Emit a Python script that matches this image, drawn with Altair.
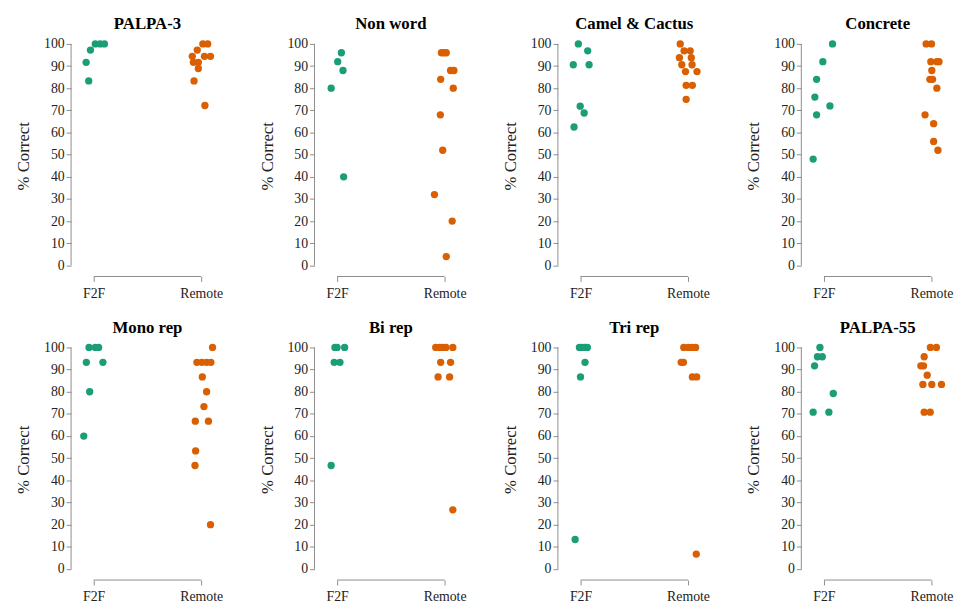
import altair as alt
import pandas as pd

panel_names = ["PALPA-3", "Non word", "Camel & Cactus", "Concrete",
               "Mono rep", "Bi rep", "Tri rep", "PALPA-55"]
groups = ["F2F", "Remote"]

# % correct per participant, with the horizontal jitter
palpa3_f2f = [91.7, 83.3, 97.2, 100, 100, 100]
palpa3_f2f_jit = [-0.07, -0.046, -0.03, 0.015, 0.06, 0.1]
palpa3_rem = [94.4, 91.7, 83.3, 97.2, 91.7, 88.9, 100, 100, 94.4, 94.4, 72.2]
palpa3_rem_jit = [-0.083, -0.073, -0.067, -0.037, -0.027, -0.027, 0.015, 0.06, 0.03, 0.086, 0.034]

nonword_f2f = [96, 92, 88, 80, 40]
nonword_f2f_jit = [0.04, 0.006, 0.055, -0.055, 0.061]
nonword_rem = [96, 96, 96, 88, 88, 84, 80, 68, 52, 32, 20, 4]
nonword_rem_jit = [-0.03, -0.006, 0.015, 0.055, 0.086, -0.037, 0.08, -0.04, -0.018, -0.095, 0.07, 0.015]

camel_f2f = [100, 96.9, 90.6, 90.6, 71.9, 68.8, 62.5]
camel_f2f_jit = [-0.02, 0.067, -0.067, 0.08, -0.003, 0.034, -0.06]
camel_rem = [100, 96.9, 96.9, 93.8, 93.8, 90.6, 90.6, 87.5, 87.5, 81.3, 81.3, 75]
camel_rem_jit = [-0.073, -0.037, 0.02, -0.08, 0.03, -0.058, 0.037, -0.024, 0.083, -0.018, 0.04, -0.018]

concrete_f2f = [100, 92, 84, 76, 72, 68, 48]
concrete_f2f_jit = [0.08, -0.01, -0.068, -0.084, 0.056, -0.068, -0.1]
concrete_rem = [100, 100, 92, 92, 92, 88, 84, 84, 80, 68, 64, 56, 52]
concrete_rem_jit = [-0.05, 0.0, -0.006, 0.05, 0.07, 0.003, -0.015, 0.01, 0.05, -0.06, 0.02, 0.02, 0.06]

mono_f2f = [100, 100, 100, 93.3, 93.3, 80, 60]
mono_f2f_jit = [-0.043, 0.015, 0.046, -0.068, 0.086, -0.037, -0.092]
mono_rem = [100, 93.3, 93.3, 93.3, 93.3, 86.7, 80, 73.3, 66.7, 66.7, 53.3, 46.7, 20]
mono_rem_jit = [0.105, -0.04, 0.006, 0.05, 0.09, 0.01, 0.05, 0.025, -0.055, 0.067, -0.052, -0.058, 0.086]

bi_f2f = [100, 100, 100, 93.3, 93.3, 46.7]
bi_f2f_jit = [-0.02, 0.0, 0.07, -0.027, 0.027, -0.055]
bi_rem = [100, 100, 100, 100, 100, 93.3, 93.3, 86.7, 86.7, 26.7]
bi_rem_jit = [-0.083, -0.046, -0.018, 0.012, 0.076, -0.037, 0.055, -0.061, 0.046, 0.076]

tri_f2f = [100, 100, 100, 100, 93.3, 86.7, 13.3]
tri_f2f_jit = [-0.01, 0.015, 0.04, 0.064, 0.042, 0.0, -0.05]
tri_rem = [100, 100, 100, 100, 93.3, 93.3, 86.7, 86.7, 6.7]
tri_rem_jit = [-0.04, 0.003, 0.04, 0.07, -0.064, -0.043, 0.04, 0.08, 0.076]

palpa55_f2f = [100, 95.8, 95.8, 91.7, 79.2, 70.8, 70.8]
palpa55_f2f_jit = [-0.037, -0.06, -0.015, -0.087, 0.087, -0.1, 0.046]
palpa55_rem = [100, 100, 95.8, 91.7, 91.7, 87.5, 83.3, 83.3, 83.3, 70.8, 70.8]
palpa55_rem_jit = [-0.01, 0.046, -0.068, -0.099, -0.074, -0.04, -0.08, 0.003, 0.093, -0.068, -0.012]

panel_data = [
    (palpa3_f2f, palpa3_f2f_jit, palpa3_rem, palpa3_rem_jit),
    (nonword_f2f, nonword_f2f_jit, nonword_rem, nonword_rem_jit),
    (camel_f2f, camel_f2f_jit, camel_rem, camel_rem_jit),
    (concrete_f2f, concrete_f2f_jit, concrete_rem, concrete_rem_jit),
    (mono_f2f, mono_f2f_jit, mono_rem, mono_rem_jit),
    (bi_f2f, bi_f2f_jit, bi_rem, bi_rem_jit),
    (tri_f2f, tri_f2f_jit, tri_rem, tri_rem_jit),
    (palpa55_f2f, palpa55_f2f_jit, palpa55_rem, palpa55_rem_jit),
]

FONT = "Liberation Serif, Times New Roman, serif"
AXIS_GRAY = "#8c8c8c"
W, H = 155, 245

xscale = alt.Scale(domain=[0.79, 2.21], nice=False, zero=False)
yscale = alt.Scale(domain=[-5, 104], nice=False, zero=False)
xaxis = alt.Axis(values=[1, 2], labelExpr="datum.value == 1 ? 'F2F' : 'Remote'",
                 domain=False, grid=False, tickSize=5, tickColor=AXIS_GRAY,
                 labelPadding=5, labelFontSize=14, labelColor="#222",
                 title=None)
yaxis = alt.Axis(values=list(range(0, 101, 10)), domain=False, grid=False, tickSize=5,
                 tickColor=AXIS_GRAY, labelPadding=2, labelFontSize=14,
                 labelColor="#222", title="% Correct", titleFontSize=17,
                 titleFontWeight="normal", titleColor="#222", titlePadding=11,
                 minExtent=28, maxExtent=28)


def make_panel(name, f2f, f2f_j, rem, rem_j):
    rows = []
    for v, j in zip(f2f, f2f_j):
        rows.append({"x": 1 + j, "y": v, "group": "F2F"})
    for v, j in zip(rem, rem_j):
        rows.append({"x": 2 + j, "y": v, "group": "Remote"})
    df = pd.DataFrame(rows)
    frame = pd.DataFrame({"x": [1.0], "x2": [2.0], "y": [0.0], "y2": [100.0]})

    pts = alt.Chart(df).mark_circle(size=55, opacity=1).encode(
        x=alt.X("x:Q", scale=xscale, axis=xaxis),
        y=alt.Y("y:Q", scale=yscale, axis=yaxis),
        color=alt.Color("group:N", scale=alt.Scale(domain=groups, range=["#1b9e77", "#d95f02"]),
                        legend=None),
    )
    xline = alt.Chart(frame).mark_rule(color=AXIS_GRAY, strokeWidth=1).encode(
        x=alt.X("x:Q", scale=xscale, axis=xaxis), x2="x2:Q", y=alt.value(H)
    )
    yline = alt.Chart(frame).mark_rule(color=AXIS_GRAY, strokeWidth=1).encode(
        y=alt.Y("y:Q", scale=yscale, axis=yaxis), y2="y2:Q", x=alt.value(0)
    )
    return alt.layer(xline, yline, pts).properties(
        width=W, height=H,
        title=alt.TitleParams(name, fontSize=17, fontWeight="bold",
                              color="black", offset=2, anchor="middle"),
    )


panels = [make_panel(n, *d) for n, d in zip(panel_names, panel_data)]

chart = alt.concat(*panels, columns=4, spacing={"row": 63, "column": 92}, bounds="flush").configure(
    font=FONT,
    style={"guide-label": {"font": FONT}, "guide-title": {"font": FONT}, "group-title": {"font": FONT}},
).configure_view(stroke=None).configure_axis(
    labelFont=FONT, titleFont=FONT
).configure_title(font=FONT).properties(padding={"left": 7, "top": 3, "right": 5, "bottom": 5})

chart.save("out.html", embed_options={"renderer": "svg", "actions": False})
